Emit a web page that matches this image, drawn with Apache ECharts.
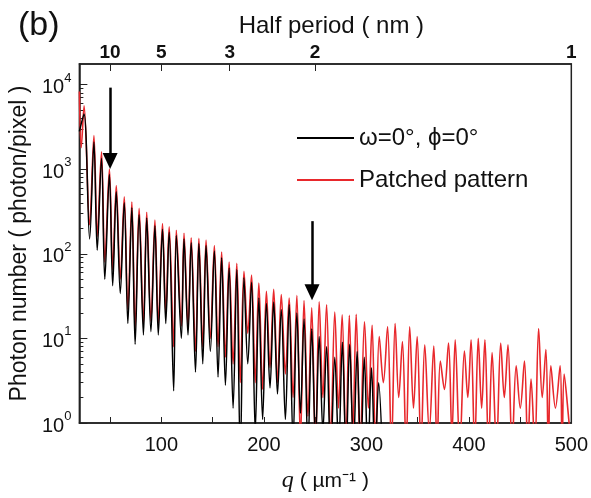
<!DOCTYPE html>
<html><head><meta charset="utf-8">
<script src="https://cdn.jsdelivr.net/npm/echarts@6/dist/echarts.min.js"></script>
<style>html,body{margin:0;padding:0;background:#fff}#c{width:591px;height:498px}</style>
</head><body><div id="c"></div>
<script>
// ---- data (q in µm^-1, photon/pixel) ----
const blackData = [[20,2800],[24.5,4500],[30,150],[34.2,2100],[37.4,110],[41.6,1350],[44.8,50],[49.3,870],[52.5,42],[56,540],[59.9,34],[63.8,400],[67.3,15],[71.2,350],[74.4,8.5],[78.3,290],[82.5,11],[85.7,265],[89.8,12],[93.7,215],[97,11],[101.1,195],[104.3,15],[107.6,180],[112,2.4],[114.6,165],[119.5,10],[122.1,150],[126,11],[129.1,135],[133.3,4],[136.6,132],[140.4,5],[143.6,125],[147.8,7],[151.7,108],[155.3,3.5],[158.8,90],[162.5,2.8],[166.1,68],[170,1.5],[173.6,65],[177,0.4],[180.6,52],[184.3,5],[188,46],[191.6,0.8],[195.1,30],[198.8,1.1],[202.5,26],[206,2.6],[209.6,27],[213.3,2.2],[217,22],[221,1.1],[224.7,25],[228.5,0.6],[232.2,20],[235.7,1.3],[239.2,17],[243,0.5],[246.7,13],[250.4,0.6],[254,10.5],[257.6,0.8],[261.2,8],[265.2,0.4],[269.2,6],[273,0.5],[276.6,9],[280.2,0.4],[283.7,8.5],[287.4,0.5],[291,7],[294.5,0.4],[298,6],[301.5,0.4],[305,4.5],[308.5,0.4],[312,3],[316,0.3]];
const redData = [[20,8300],[21.8,1800],[24.6,5600],[30,220],[34.2,2500],[37.4,160],[41.6,1600],[44.8,80],[49.3,1000],[52.5,65],[56,640],[59.9,50],[63.8,470],[67.3,22],[71.2,410],[74.4,13],[78.3,345],[82.5,15],[85.7,310],[89.8,16],[93.7,250],[97,15],[101.1,228],[104.3,20],[107.6,208],[112,8],[114.6,190],[119.5,14],[122.1,175],[126,14],[129.1,155],[133.3,7],[136.6,152],[140.4,8],[143.6,145],[147.8,10],[151.7,125],[155.3,8],[158.8,105],[162.5,6],[166.1,80],[170,5],[173.6,77],[177,3],[180.6,62],[184.3,11.5],[188,56],[191.6,3],[195.1,45],[198.8,2.5],[202.5,36],[206,4.5],[209.6,38],[213.3,3],[217,33],[221,3.8],[224.7,30],[228.5,2],[232.2,32],[235.7,0.6],[239.2,28],[243,1.2],[246.7,23],[250.4,0.5],[254,27],[257.6,2],[261.2,25],[265.2,0.6],[269.2,20.5],[272.8,1.5],[276.4,19],[280,0.5],[283.4,18.7],[286.8,0.8],[290.1,19.2],[294,0.5],[298.2,15.7],[302,1.5],[305.6,14.3],[309,0.5],[312.6,10.5],[316.6,3],[320.7,13.7],[324.5,0.5],[328.1,15],[331.6,2],[335.2,9.2],[338.8,0.5],[342.3,13.7],[346,1.5],[349.6,10.5],[353.3,0.5],[357,8.4],[361.4,0.8],[365.8,8.1],[369,0.5],[372.2,5.4],[376.2,2.5],[380.2,8.8],[383.5,0.7],[386.7,9.6],[391.2,0.5],[395.7,7.1],[399,2],[402.2,9.6],[405.7,0.5],[409.2,10],[412.5,1.5],[415.7,9.6],[419.2,0.5],[422.7,6.8],[427,0.5],[431.1,8.8],[434.6,2],[438.2,8.4],[442.2,0.5],[446.2,4.75],[450.2,1.5],[454.3,5.4],[457.5,0.5],[460.7,3.3],[464.4,0.5],[468.1,13.1],[471.6,2],[475.2,7.4],[477.6,0.5],[480,4.75],[484.5,1.5],[489.1,4.75],[491,0.5],[493,3.8],[496.5,1.5],[500,0.5]];
const seriesNames = ['\u03c9=0\u00b0, \u03d5=0\u00b0', 'Patched pattern'];
const xLabelValues = [100, 200, 300, 400, 500];
const xTickValues = [50, 100, 150, 200, 250, 300, 350, 400, 450, 500];
const halfPeriodLabels = [10, 5, 3, 2, 1];          // nm, q = 500 / d
const yMajor = [1, 10, 100, 1000, 10000];
const yMinor = [2,3,4,5,6,7,8,9,20,30,40,50,60,70,80,90,200,300,400,500,600,700,800,900,2000,3000,4000,5000,6000,7000,8000,9000];
const arrows = [[[50, 9200], [50, 1250]], [[247, 243], [247, 35]]];

const FONT = 'Liberation Sans, Arial, sans-serif';
const XMIN = 20, XMAX = 500, YMIN = 1, YMAX = 17500;
const axisColor = '#222';

const chart = echarts.init(document.getElementById('c'), null, {renderer: 'canvas'});
chart.setOption({
  animation: false,
  backgroundColor: '#fff',
  title: {text: '(b)', left: 13, top: 4, textStyle: {fontFamily: FONT, fontSize: 34, fontWeight: 'normal', color: '#111'}},
  grid: {left: 77, right: 17, top: 64, bottom: 66, show: true, borderColor: axisColor, borderWidth: 1.5, backgroundColor: 'transparent'},
  legend: {
    orient: 'vertical', left: 292, top: 121, itemWidth: 57, itemHeight: 2, itemGap: 18,
    icon: 'rect', data: [seriesNames[0], seriesNames[1]],
    textStyle: {fontFamily: FONT, fontSize: 24, color: '#111', lineHeight: 24}
  },
  xAxis: [{
    type: 'value', min: XMIN, max: XMAX, position: 'bottom',
    name: '{i|q}{n| ( \u00b5m\u207b\u00b9 )}', nameLocation: 'middle', nameGap: 46,
    nameTextStyle: {rich: {i: {fontFamily: 'Liberation Serif, serif', fontStyle: 'italic', fontSize: 24, color: '#111'}, n: {fontFamily: FONT, fontSize: 21, color: '#111'}}},
    axisLine: {show: true, lineStyle: {color: axisColor, width: 1.5}},
    axisTick: {show: true, inside: true, length: 6, customValues: xTickValues, lineStyle: {color: axisColor}},
    axisLabel: {customValues: xLabelValues, fontFamily: FONT, fontSize: 20, color: '#111', margin: 12},
    splitLine: {show: false}
  }, {
    type: 'value', min: XMIN, max: XMAX, position: 'top',
    name: 'Half period ( nm )', nameLocation: 'middle', nameGap: 26,
    nameTextStyle: {fontFamily: FONT, fontSize: 24, color: '#111', padding: [0, 0, 0, 12]},
    axisLine: {show: true, lineStyle: {color: axisColor, width: 1.5}},
    axisTick: {show: true, inside: true, length: 7, customValues: halfPeriodLabels.map(d => 500 / d), lineStyle: {color: axisColor}},
    axisLabel: {customValues: halfPeriodLabels.map(d => 500 / d), formatter: v => String(Math.round(500 / v)), fontFamily: FONT, fontSize: 19, fontWeight: 'bold', color: '#111', margin: 2},
    splitLine: {show: false}
  }],
  yAxis: [{
    type: 'log', logBase: 10, min: YMIN, max: YMAX, position: 'left',
    name: 'Photon number ( photon/pixel )', nameLocation: 'middle', nameGap: 39,
    nameTextStyle: {fontFamily: FONT, fontSize: 23, color: '#111'},
    axisLine: {show: true, lineStyle: {color: axisColor, width: 1.5}},
    axisTick: {show: true, inside: true, length: 8, customValues: yMajor, lineStyle: {color: axisColor}},
    axisLabel: {
      customValues: yMajor, margin: 8,
      formatter: v => '{b|10}{s|' + Math.round(Math.log10(v)) + '}',
      rich: {
        b: {fontFamily: FONT, fontSize: 20, color: '#111', lineHeight: 26, verticalAlign: 'bottom'},
        s: {fontFamily: FONT, fontSize: 13, color: '#111', lineHeight: 26, verticalAlign: 'top'}
      }
    },
    splitLine: {show: false}
  }, {
    type: 'log', logBase: 10, min: YMIN, max: YMAX, position: 'left',
    axisLine: {show: false},
    axisTick: {show: true, inside: true, length: 4, customValues: yMinor, lineStyle: {color: axisColor}},
    axisLabel: {show: false},
    splitLine: {show: false}
  }],
  series: [{
    name: seriesNames[1], type: 'line', data: redData, xAxisIndex: 0, yAxisIndex: 0,
    showSymbol: false, smooth: 0.35, clip: true,
    lineStyle: {color: '#e8282c', width: 1.6}, itemStyle: {color: '#e8282c'}
  }, {
    name: seriesNames[0], type: 'line', data: blackData, xAxisIndex: 0, yAxisIndex: 0,
    showSymbol: false, smooth: 0.35, clip: true,
    lineStyle: {color: '#000', width: 1.5}, itemStyle: {color: '#000'},
    markLine: {
      silent: true, symbol: ['none', 'triangle'], symbolSize: [15, 16],
      lineStyle: {color: '#000', width: 2.5, type: 'solid'}, label: {show: false},
      data: arrows.map(a => [{coord: a[0]}, {coord: a[1]}])
    }
  }]
});
</script></body></html>
